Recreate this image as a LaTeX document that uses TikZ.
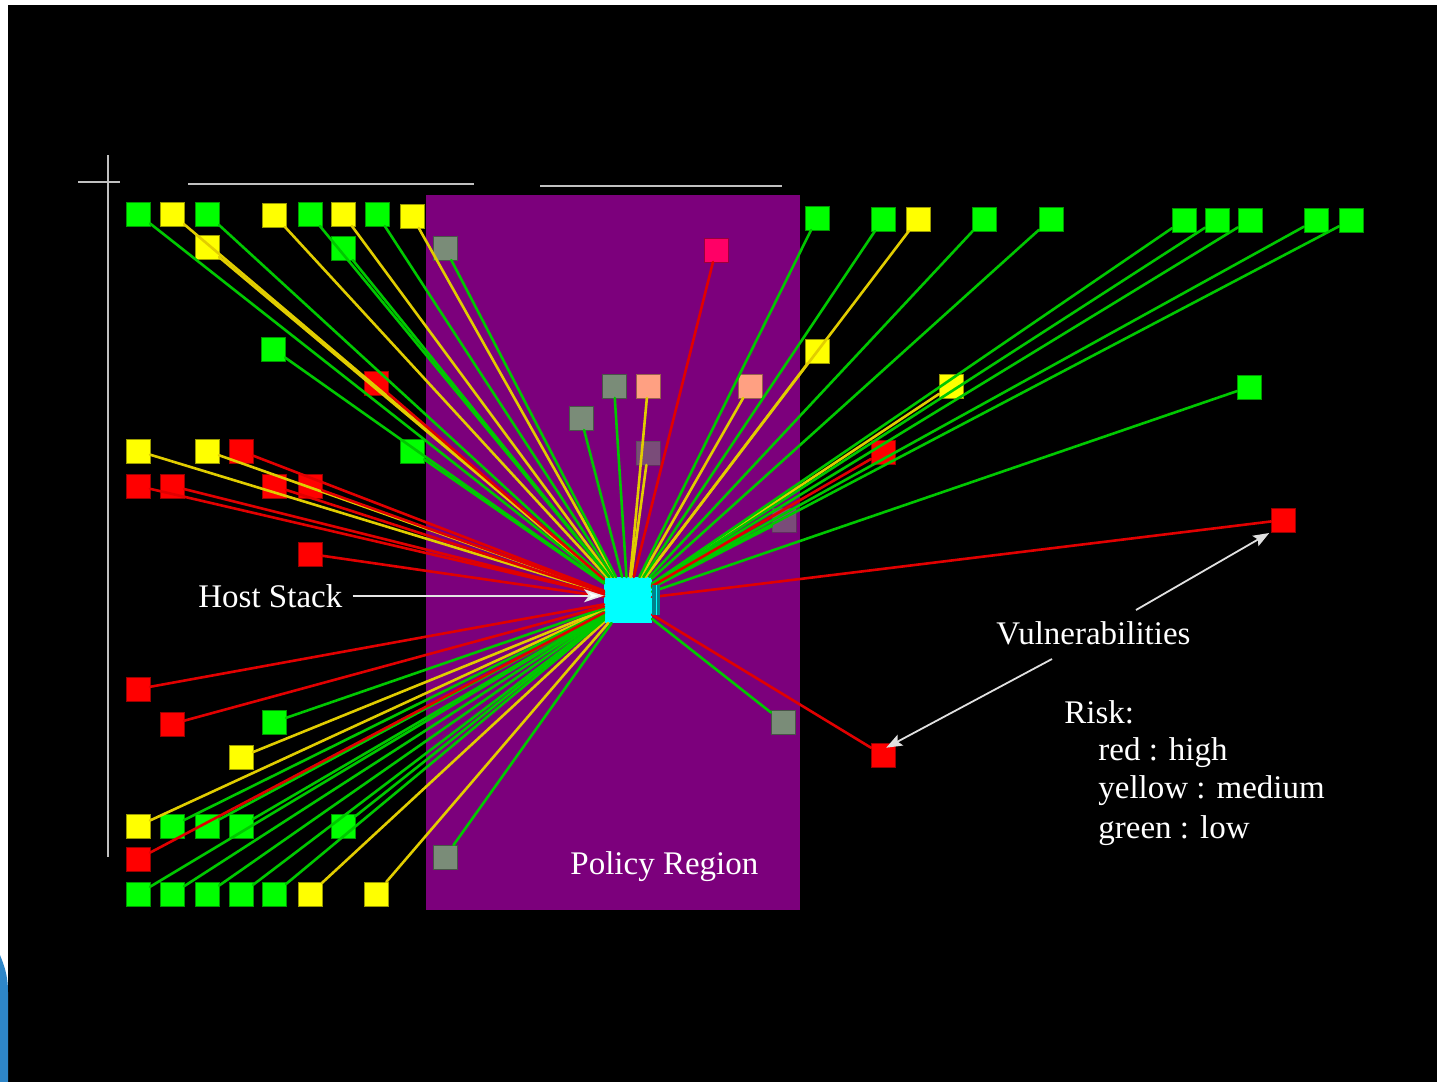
\documentclass[tikz,border=0pt]{standalone}
\usepackage{fontspec}
\setmainfont{Liberation Serif}
\usetikzlibrary{arrows.meta}
\definecolor{sqG}{RGB}{0,255,0}
\definecolor{sqY}{RGB}{255,255,0}
\definecolor{sqR}{RGB}{255,0,0}
\definecolor{sqGray}{RGB}{122,140,120}
\definecolor{sqSalmon}{RGB}{255,160,130}
\definecolor{sqPink}{RGB}{255,0,102}
\definecolor{lnG}{RGB}{0,200,0}
\definecolor{lnY}{RGB}{225,205,0}
\definecolor{lnR}{RGB}{225,0,0}
\definecolor{regionC}{RGB}{124,0,124}
\definecolor{guideC}{RGB}{192,192,192}
\definecolor{hostC}{RGB}{0,255,255}
\definecolor{hostSideC}{RGB}{0,130,140}
\definecolor{cornerBlue}{RGB}{46,134,200}
\begin{document}
\begin{tikzpicture}[x=0.5pt,y=-0.5pt,
  sq/.style={draw=#1!60!black, fill=#1, line width=0.3pt, minimum width=12pt,
    minimum height=12pt, inner sep=0pt, outer sep=0pt},
  link/.style={line width=1.3pt, line cap=round},
  guide/.style={draw=guideC, line width=1.1pt},
  lbl/.style={text=white, font=\fontsize{16.5}{19}\selectfont, inner sep=0pt, anchor=base west},
  pointer/.style={draw=white!88!black, line width=0.9pt,
    -{Stealth[length=8pt,width=6pt,inset=1.5pt]}},
]
% page, margins
\useasboundingbox (0,0) rectangle (1437,1082);
\fill[white] (0,0) rectangle (1437,1082);
\fill[black] (8,5) rectangle (1437,1082);
\fill[cornerBlue] (0,955) .. controls (4,965) and (8,975) .. (8,992) -- (8,1082) -- (0,1082) -- cycle;

% policy region
\fill[regionC] (426,195) rectangle (800,910);

% guide lines
\draw[guide] (78,182) -- (120,182);
\draw[guide] (108,155) -- (108,857);
\draw[guide] (188,184) -- (474,184);
\draw[guide] (540,186) -- (782,186);

% vulnerability squares
\foreach \n/\x/\y/\c in {
  t1/138/214/sqG, t2/172/214/sqY, t3/207/214/sqG, t4/274/215/sqY,
  t5/310/214/sqG, t6/343/214/sqY, t7/377/214/sqG, t8/412/216/sqY,
  s1/207/247/sqY, s2/343/248/sqG, s3/445/248/sqGray, s4/716/250/sqPink,
  m1/273/349/sqG, m2/376/383/sqR,
  l1/138/451/sqY, l2/207/451/sqY, l3/241/451/sqR, l4/412/451/sqG,
  l5/138/486/sqR, l6/172/486/sqR, l7/274/486/sqR, l8/310/486/sqR,
  l9/310/554/sqR,
  b1/138/689/sqR, b2/172/724/sqR, b3/274/722/sqG, b4/241/757/sqY,
  c1/138/826/sqY, c2/172/826/sqG, c3/207/826/sqG, c4/241/826/sqG,
  c5/343/826/sqG, c6/138/859/sqR,
  d1/138/894/sqG, d2/172/894/sqG, d3/207/894/sqG, d4/241/894/sqG,
  d5/274/894/sqG, d6/310/894/sqY, d7/376/894/sqY,
  p1/614/386/sqGray, p2/648/386/sqSalmon, p3/750/386/sqSalmon,
  p4/581/418/sqGray, p7/783/722/sqGray, p8/445/857/sqGray,
  r1/817/218/sqG, r2/883/219/sqG, r3/918/219/sqY, r4/984/219/sqG,
  r5/1051/219/sqG, r6/1184/220/sqG, r7/1217/220/sqG, r8/1250/220/sqG,
  r9/1316/220/sqG, r10/1351/220/sqG,
  q1/817/351/sqY, q2/951/386/sqY, q3/883/452/sqR, q4/1249/387/sqG,
  v1/1283/520/sqR, v2/883/755/sqR}
  \node[sq=\c] (\n) at (\x,\y) {};
\node[sq=sqGray, opacity=.55] (p5) at (648,453) {};
\node[sq=sqGray, opacity=.55] (p6) at (784,520) {};

% host stack
\node[fill=hostC, minimum width=24pt, minimum height=23pt, inner sep=0pt, outer sep=0pt]
  (host) at (628,600) {};

% links
\foreach \n in {t2,t4,t6,t8,s1,l1,l2,b4,c1,d6,d7,p2,p3,p5,r3,q1,q2}
  \draw[link, draw=lnY] (\n) -- (host);
\foreach \n in {t1,t3,t5,t7,s2,s3,m1,l4,b3,c2,c3,c4,c5,d1,d2,d3,d4,d5,
  p1,p4,p6,p7,p8,r1,r2,r4,r5,r6,r7,r8,r9,r10,q4}
  \draw[link, draw=lnG] (\n) -- (host);
\foreach \n in {s4,m2,l3,l5,l6,l7,l8,l9,b1,b2,c6,q3,v1,v2}
  \draw[link, draw=lnR] (\n) -- (host);

\node[fill=hostSideC, minimum width=4pt, minimum height=15pt, inner sep=0pt, anchor=west]
  (hostside) at (host.east) {};
\draw[hostC, line width=0.8pt] (hostside.north) -- (hostside.south);

% labels
\node[lbl] (hs) at (198,607) {Host Stack};
\draw[draw=white!90!black, line width=0.8pt, shorten <=5pt,
  -{Stealth[length=10pt,width=6.5pt,inset=2.5pt,fill=white]}]
  (hs.east) -- (hs.east -| host.west);

\node[lbl] (pr) at (570,874) {Policy Region};

\node[lbl] (vu) at (996,644) {Vulnerabilities};
\coordinate (va) at (1136,610);
\coordinate (vb) at (1052,659);
\draw[pointer, shorten >=1pt] (va) -- (v1.south west);
\draw[pointer, shorten >=-5pt] (vb) -- (v2.north east);

\node[lbl] (risk) at (1064,723) {Risk:};
\node[lbl] (rk1) at (1098,760) {red : high};
\node[lbl] (rk2) at (1098,798) {yellow : medium};
\node[lbl] (rk3) at (1098,838) {green : low};
\end{tikzpicture}
\end{document}
